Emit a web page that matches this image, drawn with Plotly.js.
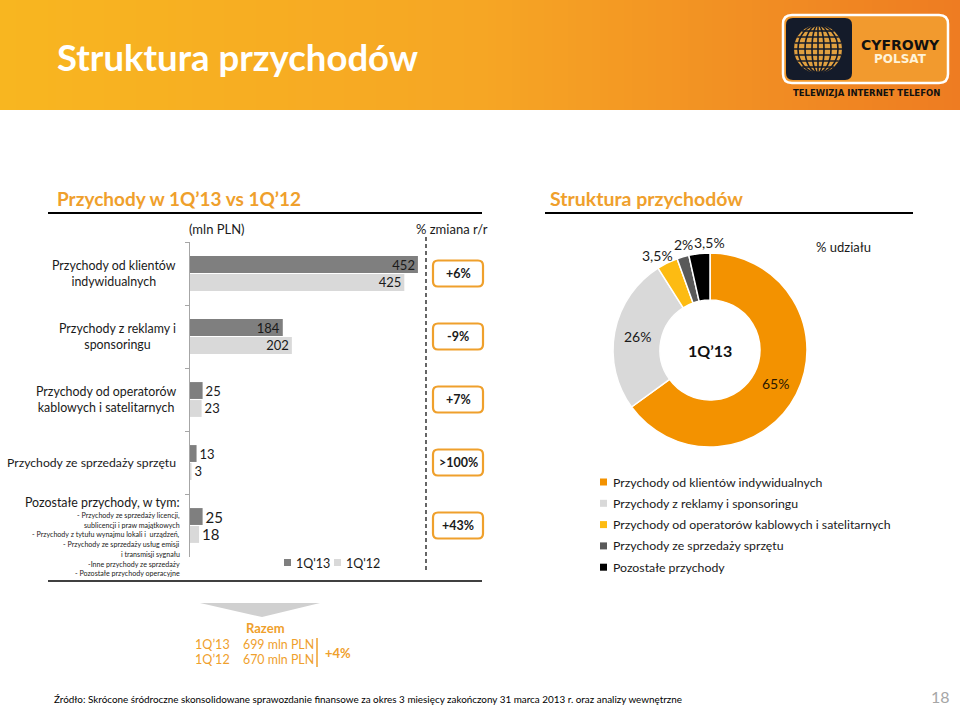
<!DOCTYPE html>
<html><head><meta charset="utf-8">
<script src="https://cdn.plot.ly/plotly-3.0.1.min.js"></script>
<style>html,body{margin:0;padding:0;background:#fff}#c{width:960px;height:707px}</style>
</head><body><div id="c"></div>
<script>
// ---------- data ----------
const categories = ["Przychody od klientów indywidualnych","Przychody z reklamy i sponsoringu","Przychody od operatorów kablowych i satelitarnych","Przychody ze sprzedaży sprzętu","Pozostałe przychody, w tym:"];
const tickLabels = ["Przychody od klientów<br>indywidualnych","Przychody z reklamy i<br>sponsoringu","Przychody od operatorów<br>kablowych i satelitarnych","Przychody ze sprzedaży sprzętu","Pozostałe przychody, w tym:"];
const otherItems = ["- Przychody ze sprzedaży licencji,","sublicencji i praw majątkowych","- Przychody z tytułu wynajmu lokali i  urządzeń,","- Przychody ze sprzedaży usług emisji","i transmisji sygnału","-Inne przychody ze sprzedaży","- Pozostałe przychody operacyjne"];
const series13 = [452,184,25,13,25];
const series12 = [425,202,23,3,18];
const seriesNames = ["1Q'13","1Q'12"];
const changes = ["+6%","-9%","+7%",">100%","+43%"];
const pieLabels = ["Przychody od klientów indywidualnych","Przychody z reklamy i sponsoringu","Przychody od operatorów kablowych i satelitarnych","Przychody ze sprzedaży sprzętu","Pozostałe przychody"];
const pieValues = [65,26,3.5,2,3.5];
const pieText = ["65%","26%","3,5%","2%","3,5%"];
const totalLabels = ["1Q’13","1Q’12"];
const totalValues = ["699 mln PLN","670 mln PLN"];
const totalChange = "+4%";

// ---------- helpers ----------
const W=960,H=707;
const px=x=>x/W, py=y=>1-y/H;
const F="Lato, 'Open Sans', sans-serif";
const ORANGE="#EFA02C";
const barColors=["#7f7f7f","#d9d9d9"];
const pieColors=["#F39200","#D9D9D9","#FDBB12","#595959","#000000"];
const shapes=[], ann=[];
function rr(x0,y0,x1,y1,r){
  const P=(x,y)=>px(x).toFixed(5)+","+py(y).toFixed(5);
  return "M"+P(x0+r,y0)+"L"+P(x1-r,y0)+"Q"+P(x1,y0)+" "+P(x1,y0+r)+"L"+P(x1,y1-r)+"Q"+P(x1,y1)+" "+P(x1-r,y1)+
   "L"+P(x0+r,y1)+"Q"+P(x0,y1)+" "+P(x0,y1-r)+"L"+P(x0,y0+r)+"Q"+P(x0,y0)+" "+P(x0+r,y0)+"Z";
}
function txt(x,y,t,o){ann.push(Object.assign({xref:"paper",yref:"paper",x:px(x),y:py(y),text:t,showarrow:false,xanchor:"center",yanchor:"middle",font:{family:F,size:13,color:"#1a1a1a"}},o||{}));}
function line(x0,y0,x1,y1,c,w,d){shapes.push({type:"line",xref:"paper",yref:"paper",x0:px(x0),y0:py(y0),x1:px(x1),y1:py(y1),line:{color:c,width:w,dash:d||"solid"}});}
function rect(x0,y0,x1,y1,fill,lc,lw){shapes.push({type:"rect",xref:"paper",yref:"paper",x0:px(x0),y0:py(y0),x1:px(x1),y1:py(y1),fillcolor:fill,line:{color:lc||fill,width:lw||0},layer:"below"});}

// ---------- header gradient ----------
const stops=[[0,[248,182,32]],[480,[246,166,36]],[960,[238,124,34]]];
function col(x){for(let i=0;i<stops.length-1;i++){const a=stops[i],b=stops[i+1];if(x<=b[0]){const t=(x-a[0])/(b[0]-a[0]);return "rgb("+a[1].map((v,k)=>Math.round(v+(b[1][k]-v)*t)).join(",")+")";}}}
for(let x=0;x<960;x+=8){rect(x,0,x+8.6,110,col(x+4));}
txt(55,57,"<b>Struktura przychodów</b>",{xanchor:"left",font:{family:F,size:36.5,color:"#ffffff"}});
// logo
shapes.push({type:"path",xref:"paper",yref:"paper",path:rr(783,15,948,83,9),fillcolor:"#F29A2E",line:{color:"#ffffff",width:2.5}});
shapes.push({type:"path",xref:"paper",yref:"paper",path:rr(786,18,852,80,7),fillcolor:"#141B2A",line:{color:"#141B2A",width:0}});
const gx=818,gy=49,gr=24;
shapes.push({type:"circle",xref:"paper",yref:"paper",x0:px(gx-gr),x1:px(gx+gr),y0:py(gy-gr),y1:py(gy+gr),fillcolor:"#E0A040",line:{color:"#E0A040",width:0}});
[-18,-12,-6,0,6,12,18].forEach(d=>{const h=Math.sqrt(gr*gr-d*d);line(gx-h,gy+d,gx+h,gy+d,"#141B2A",1.6);});
[6,13,20].forEach(rx=>{shapes.push({type:"circle",xref:"paper",yref:"paper",x0:px(gx-rx),x1:px(gx+rx),y0:py(gy-gr),y1:py(gy+gr),line:{color:"#141B2A",width:1.6}});});
line(gx,gy-gr,gx,gy+gr,"#141B2A",1.6);
txt(900,45,"<b>CYFROWY</b>",{font:{family:"DejaVu Sans",size:14,color:"#111"}});
txt(900,59,"<b>POLSAT</b>",{font:{family:"DejaVu Sans",size:12,color:"#FFF3D8"}});
txt(866,93,"<b>TELEWIZJA INTERNET TELEFON</b>",{font:{family:"DejaVu Sans",size:8.5,color:"#111"}});

// ---------- section titles ----------
txt(55,198,"<b>Przychody w 1Q’13 vs 1Q’12</b>",{xanchor:"left",font:{family:F,size:19,color:ORANGE}});
line(48,213,482,213,"#000",2);
txt(548,198,"<b>Struktura przychodów</b>",{xanchor:"left",font:{family:F,size:19.5,color:ORANGE}});
line(545,213,913,213,"#000",2);
txt(217,229,"(mln PLN)",{font:{family:F,size:13,color:"#1a1a1a"}});
txt(452,229,"% zmiana r/r",{font:{family:F,size:13,color:"#1a1a1a"}});

// ---------- bar chart helpers ----------
const yTop=242,yBot=557,band=(yBot-yTop)/categories.length;
tickLabels.forEach((t,i)=>{
  if(i<4){ann.push({xref:"paper",yref:"y",x:px(178),y:categories[i],text:t,showarrow:false,xanchor:"right",yanchor:"middle",align:"center",
    font:{family:F,size:i==3?12.2:12.4,color:"#1a1a1a"}});}
});
txt(182,502,tickLabels[4],{xanchor:"right",font:{family:F,size:12.4,color:"#1a1a1a"}});
otherItems.forEach((t,i)=>{txt(182,515.5+i*9.7,t,{xanchor:"right",font:{family:F,size:7.1,color:"#1a1a1a"}});});
line(426,237,426,572,"#000",1.2,"4px,3px");
line(48,581,482,581,"#000",1.6);
changes.forEach((c,i)=>{
  const cy=yTop+band*(i+0.5);
  shapes.push({type:"path",xref:"paper",yref:"paper",path:rr(433,cy-13,483,cy+13,5),line:{color:ORANGE,width:2.2},fillcolor:"rgba(0,0,0,0)"});
  txt(458,cy,"<b>"+c+"</b>",{font:{family:F,size:12.5,color:"#1a1a1a"}});
});
// bar legend
seriesNames.forEach((n,i)=>{
  const x=284+i*50;
  rect(x,559,x+7,566,barColors[i]);
  txt(x+10,563,n,{xanchor:"left",font:{family:F,size:12.5,color:"#1a1a1a"}});
});

// ---------- pie extras ----------
const pcx=710,pcy=350,pR=97,pr=50;
txt(pcx,pcy+1,"<b>1Q’13</b>",{font:{family:F,size:16,color:"#111"}});
txt(843,247,"% udziału",{font:{family:F,size:13,color:"#1a1a1a"}});
const total=pieValues.reduce((a,b)=>a+b,0);
let cum=0;
const outerPos=[null,null,[657,255],[683,245],[709,242]];
pieValues.forEach((v,i)=>{
  const mid=(cum+v/2)/total*2*Math.PI; cum+=v;
  if(i<2){const rm=(pR+pr)/2;txt(pcx+rm*Math.sin(mid),pcy-rm*Math.cos(mid),pieText[i],{font:{family:F,size:14,color:i==0?"#2a1800":"#1a1a1a"}});}
  else{txt(outerPos[i][0],outerPos[i][1],pieText[i],{font:{family:F,size:14,color:"#1a1a1a"}});}
});
pieLabels.forEach((l,i)=>{
  const y=482+i*21.3;
  rect(600,y-3.5,607,y+3.5,pieColors[i]);
  txt(611,y,l,{xanchor:"left",font:{family:F,size:12.3,color:"#1a1a1a"}});
});

// ---------- totals ----------
shapes.push({type:"path",xref:"paper",yref:"paper",path:"M"+px(200)+","+py(603)+"L"+px(320)+","+py(603)+"L"+px(262)+","+py(617)+"Z",fillcolor:"#D0D0D0",line:{width:0}});
txt(265,628,"<b>Razem</b>",{font:{family:F,size:13,color:ORANGE}});
totalLabels.forEach((l,i)=>{
  const y=644+i*15.5;
  txt(232,y,l,{xanchor:"right",font:{family:F,size:12.6,color:ORANGE}});
  txt(241,y,totalValues[i],{xanchor:"left",font:{family:F,size:12.4,color:ORANGE}});
});
line(317,638,317,667,ORANGE,1.5);
txt(338,653,"<b>"+totalChange+"</b>",{font:{family:F,size:13,color:ORANGE}});

// ---------- footer ----------
txt(52,699,"Źródło: Skrócone śródroczne skonsolidowane sprawozdanie finansowe za okres 3 miesięcy zakończony 31 marca 2013 r. oraz analizy wewnętrzne",{xanchor:"left",font:{family:F,size:9.9,color:"#000"}});
txt(940,696,"18",{font:{family:F,size:16,color:"#A6A6A6"}});

// ---------- traces ----------
const traces=[
 {type:"bar",orientation:"h",name:seriesNames[0],y:categories,x:series13,marker:{color:barColors[0]},text:series13.map(String),textposition:"auto",textangle:0,constraintext:"none",
  textfont:{family:F,size:[13,13,13,13,15],color:"#1a1a1a"},insidetextfont:{family:F,color:"#1a1a1a"},outsidetextfont:{family:F,color:"#1a1a1a"},cliponaxis:false,hoverinfo:"x+name"},
 {type:"bar",orientation:"h",name:seriesNames[1],y:categories,x:series12,marker:{color:barColors[1]},text:series12.map(String),textposition:"auto",textangle:0,constraintext:"none",
  textfont:{family:F,size:[13,13,13,13,15],color:"#1a1a1a"},insidetextfont:{family:F,color:"#1a1a1a"},outsidetextfont:{family:F,color:"#1a1a1a"},cliponaxis:false,hoverinfo:"x+name"},
 {type:"pie",labels:pieLabels,values:pieValues,text:pieText,marker:{colors:pieColors,line:{color:"#ffffff",width:1.5}},hole:pr/pR,sort:false,direction:"clockwise",rotation:0,
  textinfo:"none",domain:{x:[px(pcx-pR),px(pcx+pR)],y:[py(pcy+pR),py(pcy-pR)]},showlegend:false}
];
const layout={width:W,height:H,margin:{l:0,r:0,t:0,b:0},paper_bgcolor:"#ffffff",plot_bgcolor:"rgba(0,0,0,0)",showlegend:false,
 barmode:"group",bargap:0.43,bargroupgap:0.06,font:{family:F},
 xaxis:{domain:[px(190),px(426)],range:[0,468],visible:false,fixedrange:true},
 yaxis:{domain:[py(yBot),py(yTop)],type:"category",autorange:"reversed",showline:true,linecolor:"#a6a6a6",linewidth:1.5,ticks:"outside",tickson:"boundaries",ticklen:4,tickcolor:"#a6a6a6",showticklabels:false,showgrid:false,zeroline:false,fixedrange:true},
 shapes:shapes,annotations:ann};
Plotly.newPlot("c",traces,layout,{displayModeBar:false,staticPlot:true});
</script></body></html>
